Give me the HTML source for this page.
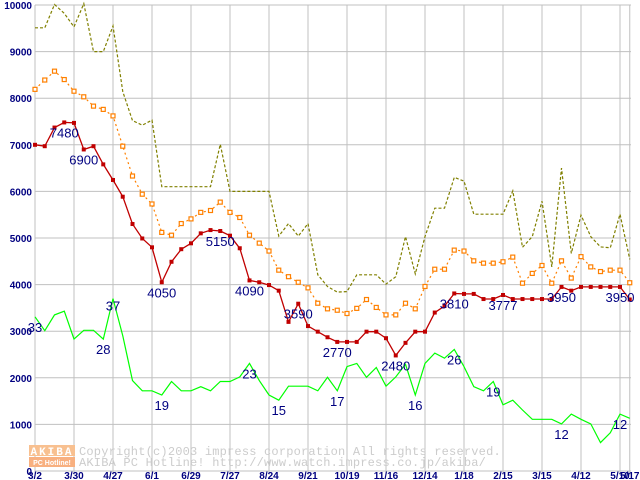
<!DOCTYPE html>
<html><head><meta charset="utf-8"><style>
html,body{margin:0;padding:0;background:#fff;}
svg{display:block;}
</style></head><body>
<svg id="chart" width="640" height="480" xmlns="http://www.w3.org/2000/svg"></svg>
<script>
const xLabels=["3/2","3/30","4/27","6/1","6/29","7/27","8/24","9/21","10/19","11/16","12/14","1/18","2/15","3/15","4/12","5/10","5/17"];
const xLabelIdx=[0,4,8,12,16,20,24,28,32,36,40,44,48,52,56,60,61];
const yTicks=[0,1000,2000,3000,4000,5000,6000,7000,8000,9000,10000];
const priceMin=[7000,6970,7370,7480,7470,6900,6970,6580,6245,5886,5300,4990,4800,4050,4490,4760,4886,5100,5170,5150,5050,4780,4090,4050,3990,3870,3200,3590,3110,2990,2870,2770,2770,2770,2990,2990,2850,2480,2750,2990,2990,3400,3540,3810,3800,3800,3690,3690,3777,3690,3690,3690,3690,3690,3950,3870,3950,3950,3950,3950,3950,3680];
const priceAvg=[8190,8390,8580,8400,8150,8030,7830,7760,7620,6970,6330,5940,5730,5120,5060,5310,5410,5550,5590,5770,5550,5440,5060,4890,4720,4310,4170,4050,3930,3600,3480,3450,3380,3490,3680,3510,3350,3350,3600,3480,3960,4330,4330,4740,4720,4510,4460,4460,4490,4590,4030,4240,4410,4030,4510,4140,4600,4380,4280,4310,4310,4040];
const priceMax=[9510,9510,10010,9820,9530,10030,9000,9000,9550,8140,7520,7420,7530,6100,6100,6100,6100,6100,6100,7010,6000,6000,6000,6000,6000,5040,5310,5040,5310,4210,3960,3840,3850,4210,4210,4210,4010,4170,5030,4230,5030,5640,5640,6300,6220,5510,5510,5510,5510,6010,4800,5030,5790,4380,6500,4670,5490,5030,4810,4790,5510,4540];
const shopCount=[3310,3010,3350,3430,2830,3020,3020,2830,3700,2900,1940,1720,1720,1630,1920,1720,1720,1810,1720,1920,1920,2020,2310,1940,1630,1520,1820,1820,1820,1720,2010,1720,2240,2310,2010,2220,1820,2020,2290,1630,2310,2530,2420,2610,2240,1810,1720,1920,1420,1520,1310,1110,1110,1110,1010,1220,1110,1010,610,820,1220,1130];
const redLabels=[[3,"7480"],[5,"6900"],[13,"4050"],[19,"5150"],[22,"4090"],[27,"3590"],[31,"2770"],[37,"2480"],[43,"3810"],[48,"3777"],[54,"3950"],[60,"3950"]];
const greenLabels=[[0,"33"],[7,"28"],[8,"37"],[13,"19"],[22,"23"],[25,"15"],[31,"17"],[39,"16"],[43,"26"],[47,"19"],[54,"12"],[60,"12"]];
const NS="http://www.w3.org/2000/svg";
const svg=document.getElementById('chart');
const X0=35,STEP=9.75,Y0=471,YS=0.0466;
function xs(i){return X0+i*STEP;}
function ys(v){return Y0-v*YS;}
function mk(tag,attrs,parent){const e=document.createElementNS(NS,tag);for(const k in attrs)e.setAttribute(k,attrs[k]);(parent||svg).appendChild(e);return e;}
const grid=mk('g',{});


yTicks.forEach(v=>{mk('line',{x1:X0,x2:631,y1:ys(v),y2:ys(v),stroke:'#c0c0c0','stroke-width':1},grid);
 const t=mk('text',{x:32,y:ys(v)+4,'text-anchor':'end','font-family':'Liberation Sans, sans-serif','font-size':10,'font-weight':'bold',fill:'#000080'});
 t.textContent=String(v);
 
 });
xLabelIdx.forEach((idx,k)=>{const x=xs(idx);mk('line',{x1:x,x2:x,y1:ys(10000),y2:Y0+4,stroke:'#c0c0c0','stroke-width':1},grid);
 const t=mk('text',{x:x,y:479,'text-anchor':'middle','font-family':'Liberation Sans, sans-serif','font-size':10,'font-weight':'bold',fill:'#000080'});
 t.textContent=xLabels[k];
 
 });
const wm=mk('g',{});


mk('rect',{x:29,y:445,width:46,height:11,fill:'#f8c090'},wm);
mk('rect',{x:29,y:457,width:46,height:10,fill:'#f8b080'},wm);
const w1=mk('text',{x:52,y:455,'text-anchor':'middle','font-family':'Liberation Mono, monospace','font-size':11,'font-weight':'bold',fill:'#fff','letter-spacing':2},wm);w1.textContent='AKIBA';
const w2=mk('text',{x:52,y:465,'text-anchor':'middle','font-family':'Liberation Sans, sans-serif','font-size':7,'font-weight':'bold',fill:'#fff'},wm);w2.textContent='PC Hotline!';
const w3=mk('text',{x:79,y:455,'font-family':'Liberation Mono, monospace','font-size':12,fill:'#cccccc','letter-spacing':0.2},wm);w3.textContent='Copyright(c)2003 impress corporation All rights reserved.';
const w4=mk('text',{x:79,y:466,'font-family':'Liberation Mono, monospace','font-size':12,fill:'#cccccc','letter-spacing':0.2},wm);w4.textContent='AKIBA PC Hotline!  http://www.watch.impress.co.jp/akiba/';
function pts(arr){return arr.map((v,i)=>xs(i).toFixed(1)+','+ys(v).toFixed(1)).join(' ');}
const maxLine=mk('polyline',{points:pts(priceMax),fill:'none',stroke:'#808000','stroke-width':1.2,'stroke-dasharray':'3,2'});


const avgLine=mk('polyline',{points:pts(priceAvg),fill:'none',stroke:'#ff8000','stroke-width':1.2,'stroke-dasharray':'2,3'});


priceAvg.forEach((v,i)=>{const r=mk('rect',{x:xs(i)-2,y:ys(v)-2,width:4,height:4,fill:'#fff',stroke:'#ff8000','stroke-width':1.2});
 
 });
const minLine=mk('polyline',{points:pts(priceMin),fill:'none',stroke:'#c00000','stroke-width':1.3});


priceMin.forEach((v,i)=>{const r=mk('rect',{x:xs(i)-2,y:ys(v)-2,width:4,height:4,fill:'#c00000'});
 
 });
const shopLine=mk('polyline',{points:pts(shopCount),fill:'none',stroke:'#00ff00','stroke-width':1.2});


function lab(i,txt,v,dy){const t=mk('text',{x:xs(i),y:ys(v)+dy,'text-anchor':'middle','font-family':'Liberation Sans, sans-serif','font-size':13,fill:'#000080'});
 t.textContent=txt;
 
 }
redLabels.forEach(([i,t])=>lab(i,t,priceMin[i],15));
greenLabels.forEach(([i,t])=>lab(i,t,shopCount[i],i===8?12:15));
</script>
</body></html>
